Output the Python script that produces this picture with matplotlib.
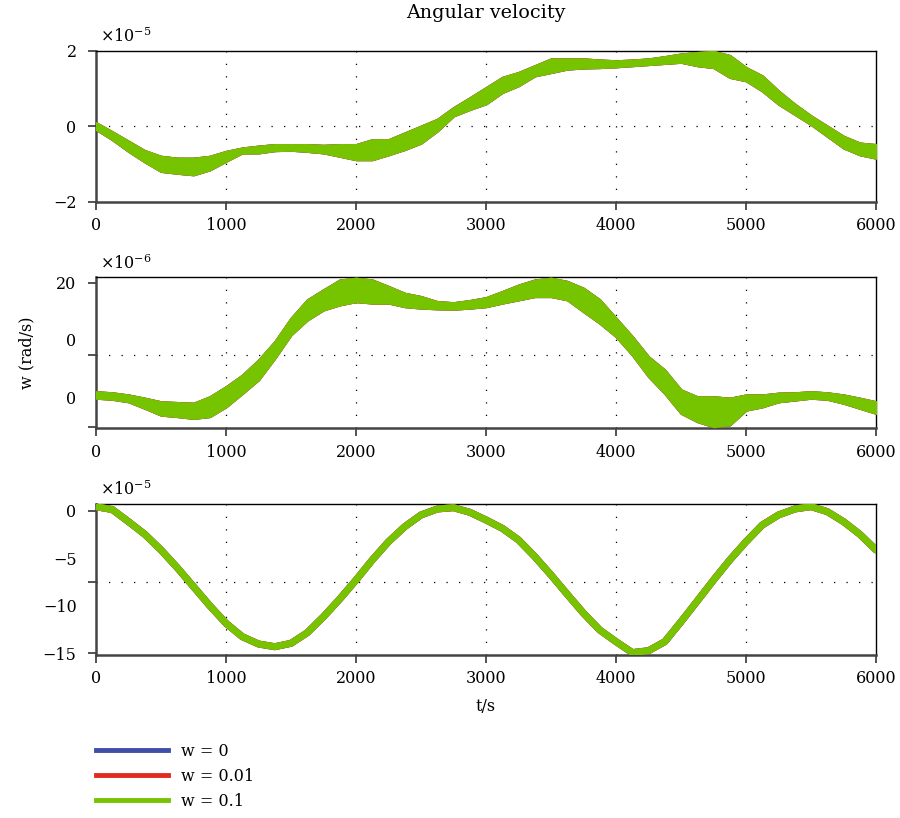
import numpy as np
import matplotlib.pyplot as plt

plt.rcParams['font.family'] = ['DejaVu Serif']
plt.rcParams['mathtext.fontset'] = 'dejavuserif'
plt.rcParams['font.size'] = 11.5

# time grid (s), one reading every 125 s
t = np.arange(0, 6001, 125)

# panel 1, x1e-5 rad/s: upper and lower edge of the noisy band
w1_hi = [0.10, -0.14, -0.39, -0.64, -0.79, -0.84, -0.84, -0.79, -0.66, -0.57, -0.52, -0.48,
         -0.48, -0.48, -0.50, -0.48, -0.48, -0.35, -0.35, -0.17, 0.01, 0.19, 0.50, 0.76, 1.03,
         1.30, 1.43, 1.61, 1.79, 1.79, 1.79, 1.76, 1.74, 1.76, 1.79, 1.85, 1.92, 1.96, 1.99,
         1.88, 1.56, 1.34, 0.94, 0.59, 0.28, 0.01, -0.26, -0.44, -0.48]
w1_lo = [-0.08, -0.35, -0.66, -0.94, -1.19, -1.24, -1.28, -1.15, -0.92, -0.70, -0.70, -0.64,
         -0.63, -0.66, -0.70, -0.79, -0.88, -0.88, -0.75, -0.61, -0.44, -0.12, 0.28, 0.45, 0.60,
         0.90, 1.08, 1.34, 1.43, 1.52, 1.55, 1.56, 1.58, 1.61, 1.64, 1.67, 1.70, 1.61, 1.56,
         1.30, 1.21, 0.94, 0.59, 0.32, 0.05, -0.26, -0.57, -0.75, -0.84]

# panel 2, x1e-6 rad/s
w2_hi = [-10.2, -10.5, -11.1, -12.0, -13.0, -13.2, -13.4, -11.6, -8.8, -5.6, -1.4, 3.7,
         10.2, 15.3, 18.1, 20.8, 21.3, 20.8, 19.0, 17.1, 16.2, 14.8, 14.5, 15.1, 15.9,
         17.6, 19.4, 20.8, 21.3, 20.4, 18.5, 15.3, 10.2, 5.1, -0.5, -4.2, -9.7, -11.6, -11.6,
         -12.0, -11.1, -11.1, -10.6, -10.5, -10.2, -10.5, -11.1, -12.0, -13.0]
w2_lo = [-12.0, -12.3, -13.0, -14.8, -16.7, -17.1, -17.6, -17.1, -14.4, -10.7, -6.9, -0.9,
         5.6, 9.7, 12.5, 13.9, 14.8, 14.4, 14.4, 13.4, 13.0, 12.8, 12.7, 13.0, 13.4,
         14.4, 15.3, 16.2, 16.2, 15.3, 12.0, 8.8, 5.1, 0.0, -6.0, -10.7, -16.2, -18.5, -19.9,
         -19.4, -15.3, -14.4, -13.0, -12.5, -12.0, -12.3, -13.4, -14.8, -16.2]

# panel 3, x1e-5 rad/s (smooth curve)
w3 = [0.45, 0.15, -1.13, -2.46, -4.12, -5.99, -7.99, -10.0, -11.86, -13.27, -14.04, -14.33,
      -13.97, -12.85, -11.16, -9.29, -7.29, -5.17, -3.24, -1.65, -0.42, 0.21, 0.35, -0.14,
      -0.95, -1.83, -3.06, -4.82, -6.76, -8.80, -10.8, -12.57, -13.8, -14.95, -14.75, -13.8,
      -11.69, -9.50, -7.29, -5.17, -3.24, -1.48, -0.42, 0.21, 0.46, -0.07, -1.13, -2.46, -4.12]

labels = ['w = 0', 'w = 0.01', 'w = 0.1']
colors = ['#3f4ea6', '#e22b1f', '#76c400']

fig = plt.figure(figsize=(9, 8.18), dpi=100)
L, W, H = 0.1067, 0.8667, 0.1846
ax1 = fig.add_axes([L, 0.7531, W, H])
ax2 = fig.add_axes([L, 0.4762, W, H])
ax3 = fig.add_axes([L, 0.1993, W, H])

grid_kw = dict(color='black', lw=0.9, linestyle=(0, (1, 9)), zorder=1)

for ax in (ax1, ax2, ax3):
    ax.set_xlim(0, 6000)
    ax.set_xticks(range(0, 6001, 1000))
    for x in range(1000, 6000, 1000):
        ax.axvline(x, **grid_kw)
    for s in ('left', 'bottom'):
        ax.spines[s].set_color('#444444')
        ax.spines[s].set_linewidth(1.8)
    for s in ('top', 'right'):
        ax.spines[s].set_linewidth(1.0)
    ax.tick_params(which='major', direction='out', length=6, width=1.3, color='#444444')
    ax.tick_params(axis='x', pad=5)
    ax.tick_params(axis='y', pad=8)

# noisy panels: the three cases overlap, green drawn last
for ax, hi, lo in ((ax1, w1_hi, w1_lo), (ax2, w2_hi, w2_lo)):
    for c in colors:
        ax.fill_between(t, lo, hi, color=c, lw=1.5, edgecolor=c, zorder=3)

for lab, c in zip(labels, colors):
    ax3.plot(t, w3, color=c, lw=5, solid_capstyle='round', label=lab, zorder=3)

# panel 1 axis
ax1.set_ylim(-2, 2)
ax1.set_yticks([-2, 0, 2], labels=['\u22122', '0', '2'])
ax1.axhline(0, **grid_kw)
ax1.text(0.005, 1.03, r'$\times$10$^{-5}$', transform=ax1.transAxes, va='bottom')
ax1.set_title('Angular velocity', pad=24)

# panel 2 axis (labels sit off the tick marks in the original)
ax2.set_ylim(-20.4, 21.5)
ax2.set_yticks([-20, 0, 20], labels=['', '', '20'])
ax2.set_yticks([-11.7, 4.2], labels=['0', '0'], minor=True)
ax2.tick_params(axis='y', which='minor', length=0, pad=14)
ax2.axhline(0, **grid_kw)
ax2.text(0.005, 1.03, r'$\times$10$^{-6}$', transform=ax2.transAxes, va='bottom')
ax2.set_ylabel('w (rad/s)', labelpad=15)

# panel 3 axis
ax3.set_ylim(-15.2, 0.74)
ax3.yaxis.remove_overlapping_locs = False
ax3.set_yticks([-15, -7.5, 0], labels=['', '', ''])
ax3.set_yticks([-15, -10, -5, 0], labels=['\u221215', '\u221210', '\u22125', '0'], minor=True)
ax3.tick_params(axis='y', which='minor', length=0, pad=14)
ax3.axhline(-7.5, **grid_kw)
ax3.text(0.005, 1.03, r'$\times$10$^{-5}$', transform=ax3.transAxes, va='bottom')
ax3.set_xlabel('t/s', labelpad=8)

leg_handles = [plt.Line2D([], [], color=c, lw=3.5) for c in colors]
fig.legend(leg_handles, labels, loc='upper left', bbox_to_anchor=(0.1, 0.1),
           frameon=False, handlelength=4.5, handletextpad=0.8,
           labelspacing=0.5, borderaxespad=0)

fig.savefig('out.png', dpi=100)
